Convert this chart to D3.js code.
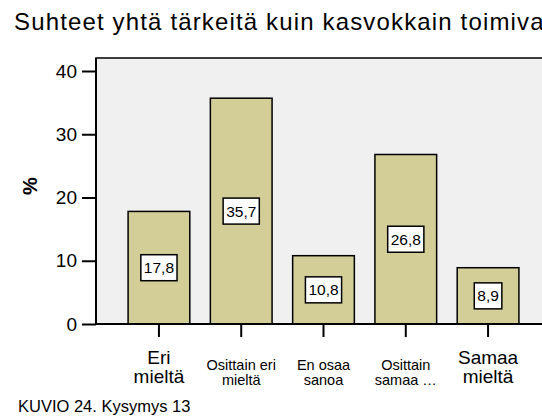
<!DOCTYPE html>
<html>
<head>
<meta charset="utf-8">
<title>Suhteet yhtä tärkeitä kuin kasvokkain toimivat</title>
<script src="https://cdn.jsdelivr.net/npm/d3@7/dist/d3.min.js"></script>
<style>
  body { margin: 0; background: #fff; }
  svg { display: block; font-family: "Liberation Sans", Arial, sans-serif; }
</style>
</head>
<body>
<script>
// data
var categories = ["Eri mieltä", "Osittain eri mieltä", "En osaa sanoa", "Osittain samaa mieltä", "Samaa mieltä"];
var catLines = [["Eri", "mieltä"], ["Osittain eri", "mieltä"], ["En osaa", "sanoa"], ["Osittain", "samaa …"], ["Samaa", "mieltä"]];
var catBig = [true, false, false, false, true];
var values = [17.8, 35.7, 10.8, 26.8, 8.9];
var yTicks = [0, 10, 20, 30, 40];

var W = 542, H = 417;
var plotLeft = 96, plotRight = 551, plotTop = 58, plotBottom = 324;

var svg = d3.select("body").append("svg")
    .attr("width", W)
    .attr("height", H);

var x = d3.scaleBand().domain(categories).range([plotLeft, plotRight])
    .paddingInner(0.25).paddingOuter(0.39);
var y = d3.scaleLinear().domain([0, 40]).range([plotBottom, 71]);

// title
svg.append("text")
   .attr("x", 14).attr("y", 30)
   .style("font-size", "24px")
   .style("letter-spacing", "1.15px")
   .attr("fill", "#000")
   .text("Suhteet yhtä tärkeitä kuin kasvokkain toimivat");

// plot background
svg.append("rect")
   .attr("x", plotLeft).attr("y", plotTop)
   .attr("width", plotRight - plotLeft).attr("height", plotBottom - plotTop)
   .attr("fill", "#f0f0f0")
   .attr("stroke", "#000").attr("stroke-width", 1.5);

// bars
svg.selectAll(".bar")
   .data(values)
   .enter().append("rect")
   .attr("class", "bar")
   .attr("x", function(d, i) { return x(categories[i]); })
   .attr("y", function(d) { return y(d); })
   .attr("width", x.bandwidth())
   .attr("height", function(d) { return y(0) - y(d); })
   .attr("fill", "#d3ce98")
   .attr("stroke", "#000").attr("stroke-width", 1.5);

// value boxes
var lab = svg.selectAll(".lab")
   .data(values)
   .enter().append("g")
   .attr("class", "lab")
   .attr("transform", function(d, i) {
     return "translate(" + (x(categories[i]) + x.bandwidth() / 2) + "," + ((y(d) + y(0)) / 2) + ")";
   });
lab.append("text")
   .attr("text-anchor", "middle")
   .attr("dy", "0.36em")
   .style("font-size", "15.5px")
   .text(function(d) { return d3.format(".1f")(d).replace(".", ","); });
lab.each(function() {
  var g = d3.select(this);
  var bb = g.select("text").node().getBBox();
  g.insert("rect", "text")
   .attr("x", bb.x - 3).attr("y", -13)
   .attr("width", bb.width + 6).attr("height", 26)
   .attr("fill", "#fff")
   .attr("stroke", "#000").attr("stroke-width", 1.5);
});

// y axis
var yAxis = svg.append("g")
   .attr("transform", "translate(" + plotLeft + ",0)")
   .call(d3.axisLeft(y).tickValues(yTicks).tickSize(14).tickSizeOuter(0).tickPadding(5));
yAxis.select(".domain").remove();
yAxis.selectAll("line").attr("stroke", "#000").attr("stroke-width", 2);
yAxis.selectAll("text").style("font-size", "19px").attr("fill", "#000");

svg.append("line")
   .attr("x1", plotLeft).attr("x2", plotLeft)
   .attr("y1", plotTop).attr("y2", plotBottom)
   .attr("stroke", "#000").attr("stroke-width", 2);

// x axis
var xAxis = svg.append("g")
   .attr("transform", "translate(0," + plotBottom + ")")
   .call(d3.axisBottom(x).tickSize(13).tickSizeOuter(0).tickFormat(""));
xAxis.select(".domain").remove();
xAxis.selectAll("line").attr("stroke", "#000").attr("stroke-width", 2);
svg.append("line")
   .attr("x1", plotLeft).attr("x2", W)
   .attr("y1", plotBottom).attr("y2", plotBottom)
   .attr("stroke", "#000").attr("stroke-width", 2);

// category labels
svg.selectAll(".cat")
   .data(categories)
   .enter().append("text")
   .attr("class", "cat")
   .attr("text-anchor", "middle")
   .attr("x", function(d) { return x(d) + x.bandwidth() / 2; })
   .style("font-size", function(d, i) { return catBig[i] ? "19px" : "14.5px"; })
   .each(function(d, i) {
     var t = d3.select(this);
     var b = catBig[i];
     catLines[i].forEach(function(s, j) {
       t.append("tspan")
        .attr("x", x(d) + x.bandwidth() / 2)
        .attr("y", b ? 364 + j * 19 : 370 + j * 15)
        .text(s);
     });
   });

// y label
svg.append("text")
   .attr("transform", "translate(37,186) rotate(-90)")
   .attr("text-anchor", "middle")
   .style("font-size", "20px")
   .style("font-weight", "bold")
   .text("%");

// caption
svg.append("text")
   .attr("x", 18).attr("y", 412)
   .style("font-size", "16.5px")
   .text("KUVIO 24. Kysymys 13");
</script>
</body>
</html>
